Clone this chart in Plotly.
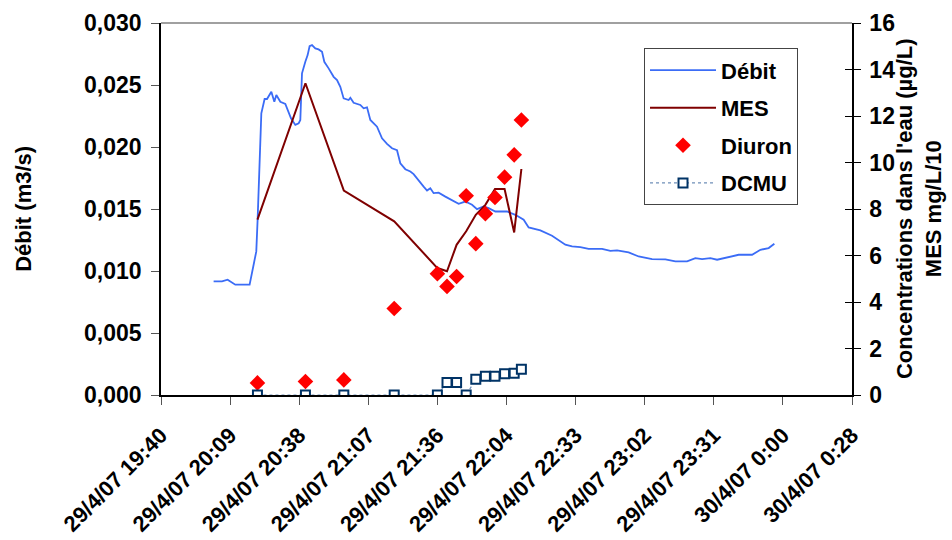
import pandas as pd
import plotly.graph_objects as go

DAY = "2007-04-29 "

# Flow rate (m3/s), continuous record
debit_time = [
    "20:02:44", "20:06:14", "20:08:34", "20:11:46", "20:17:44", "20:20:31", "20:21:04",
    "20:21:54", "20:22:37", "20:23:59", "20:24:59", "20:26:47", "20:28:02", "20:28:52",
    "20:30:32", "20:32:37", "20:33:34", "20:34:59", "20:36:47", "20:38:10", "20:38:52",
    "20:39:34", "20:40:57", "20:41:55", "20:42:44", "20:43:44", "20:45:07", "20:46:29",
    "20:47:55", "20:48:52", "20:50:40", "20:52:45", "20:54:10", "20:55:32", "20:56:55",
    "20:59:00", "20:59:43", "21:01:05", "21:03:53", "21:05:15", "21:06:40", "21:08:03",
    "21:10:50", "21:12:55", "21:15:00", "21:17:05", "21:19:10", "21:20:33", "21:22:38",
    "21:24:43", "21:26:05", "21:28:11", "21:30:16", "21:31:41", "21:33:03", "21:34:26",
    "21:36:31", "21:39:19", "21:42:06", "21:44:51", "21:47:38", "21:50:26", "21:52:31",
    "21:55:16", "21:57:22", "22:00:09", "22:05:02", "22:08:29", "22:11:57", "22:14:02",
    "22:18:55", "22:23:47", "22:29:20", "22:32:07", "22:35:35", "22:39:02", "22:44:38",
    "22:48:05", "22:50:53", "22:55:43", "22:59:53", "23:05:28", "23:11:01", "23:15:11",
    "23:20:04", "23:23:31", "23:26:19", "23:29:46", "23:32:34", "23:36:44", "23:41:34",
    "23:47:09", "23:50:37", "23:54:04", "23:56:27",
]
debit_value = [
    0.00916, 0.00916, 0.00930, 0.00890, 0.00890, 0.01158, 0.01413,
    0.01950, 0.02272, 0.02387, 0.02387, 0.02446, 0.02365, 0.02419,
    0.02365, 0.02347, 0.02298, 0.02231, 0.02178, 0.02191, 0.02218,
    0.02594, 0.02687, 0.02741, 0.02813, 0.02822, 0.02795, 0.02787,
    0.02768, 0.02687, 0.02634, 0.02566, 0.02540, 0.02486, 0.02392,
    0.02379, 0.02397, 0.02357, 0.02339, 0.02312, 0.02320, 0.02218,
    0.02164, 0.02070, 0.02025, 0.01990, 0.01974, 0.01869, 0.01821,
    0.01802, 0.01781, 0.01735, 0.01681, 0.01649, 0.01668, 0.01628,
    0.01632, 0.01600, 0.01574, 0.01542, 0.01560, 0.01534, 0.01499,
    0.01520, 0.01507, 0.01480, 0.01480, 0.01453, 0.01413, 0.01351,
    0.01327, 0.01284, 0.01212, 0.01198, 0.01193, 0.01179, 0.01179,
    0.01163, 0.01166, 0.01150, 0.01117, 0.01096, 0.01093, 0.01077,
    0.01077, 0.01104, 0.01096, 0.01104, 0.01091, 0.01109, 0.01131,
    0.01131, 0.01171, 0.01185, 0.01220,
]

# Sampling times for the water-quality samples
sample_time = [
    "20:21", "20:41", "20:57", "21:18", "21:36", "21:40", "21:44",
    "21:48", "21:52", "21:56", "22:00", "22:04", "22:08", "22:11",
]
mes_value = [7.54, 13.41, 8.79, 7.47, 5.46, 5.32, 6.46, 7.04, 7.75, 8.18, 8.86, 8.86, 6.99, 9.72]
diuron_value = [0.52, 0.58, 0.65, 3.72, 5.22, 4.67, 5.10, 8.57, 6.51, 7.80, 8.50, 9.37, 10.33, 11.83]
dcmu_value = [0, 0, 0, 0, 0, 0.54, 0.54, 0, 0.68, 0.81, 0.81, 0.91, 0.94, 1.11]

# Date axis: 0.02-day steps from 29/4/07 19:40:48
tick_text = [
    "29/4/07 19:40", "29/4/07 20:09", "29/4/07 20:38", "29/4/07 21:07",
    "29/4/07 21:36", "29/4/07 22:04", "29/4/07 22:33", "29/4/07 23:02",
    "29/4/07 23:31", "30/4/07 0:00", "30/4/07 0:28",
]
tick_vals = pd.date_range("2007-04-29 19:40:48", periods=len(tick_text), freq="1728s")

t_debit = pd.to_datetime([DAY + t for t in debit_time])
t_sample = pd.to_datetime([DAY + t for t in sample_time])

FONT = "Liberation Sans, Arial, sans-serif"
tick_font = dict(family=FONT, size=23, color="black", weight=700)
xtick_font = dict(family=FONT, size=22, color="black", weight=700)
title_font = dict(family=FONT, size=22, color="black", weight=700)

fig = go.Figure()
fig.add_trace(go.Scatter(
    x=t_debit, y=debit_value, name="Débit", mode="lines",
    line=dict(color="#3b6cf6", width=1.8), yaxis="y", legendgroup="a",
))
fig.add_trace(go.Scatter(
    x=t_sample, y=mes_value, name="MES", mode="lines",
    line=dict(color="#7f0000", width=2), yaxis="y2", legendgroup="b",
))
fig.add_trace(go.Scatter(
    x=t_sample, y=diuron_value, name="Diuron", mode="markers",
    marker=dict(symbol="diamond", size=12, color="#ff0000"), yaxis="y2", legendgroup="c",
))
fig.add_trace(go.Scatter(
    x=t_sample, y=dcmu_value, name="DCMU", mode="lines+markers",
    line=dict(color="#6f8fb8", width=1.2, dash="dot"),
    marker=dict(symbol="square", size=9, color="white", line=dict(color="#003366", width=2)),
    yaxis="y2", legendgroup="d",
))

fig.update_layout(
    width=952, height=540,
    margin=dict(l=161, r=100, t=23, b=145, autoexpand=False),
    paper_bgcolor="white", plot_bgcolor="white",
    separators=", ",
    font=title_font,
    showlegend=True,
    legend=dict(
        x=0.699, y=0.932, xanchor="left", yanchor="top",
        bgcolor="white", bordercolor="#444444", borderwidth=1,
        font=dict(family=FONT, size=22, color="black", weight=700),
        tracegroupgap=6, traceorder="grouped", itemwidth=66,
    ),
    xaxis=dict(
        type="date", automargin=False,
        range=[tick_vals[0], tick_vals[-1]],
        tickmode="array", tickvals=tick_vals, ticktext=tick_text,
        tickangle=-45, tickfont=xtick_font, ticklabelstandoff=9,
        showline=True, linecolor="black", linewidth=1.5,
        ticks="outside", ticklen=8, tickcolor="#555555",
        showgrid=False, zeroline=False,
    ),
    yaxis=dict(
        automargin=False,
        range=[0, 0.03], dtick=0.005, tickformat=".3f", tickfont=tick_font,
        ticklabelstandoff=5,
        showline=True, linecolor="black", linewidth=1.5,
        ticks="outside", ticklen=8, tickcolor="#555555",
        showgrid=False, zeroline=False,
    ),
    yaxis2=dict(
        automargin=False,
        range=[0, 16], dtick=2, overlaying="y", side="right", tickfont=tick_font,
        ticklabelstandoff=4,
        showline=True, linecolor="black", linewidth=1.5,
        ticks="outside", ticklen=7, tickcolor="black",
        showgrid=False, zeroline=False,
    ),
    yaxis3=dict(
        automargin=False,
        range=[0, 16], dtick=2, overlaying="y", side="right",
        showticklabels=False, ticks="inside", ticklen=7, tickcolor="black",
        showline=False, showgrid=False, zeroline=False,
    ),
    shapes=[dict(
        type="line", xref="paper", yref="paper", x0=0, x1=1, y0=1, y1=1,
        line=dict(color="#808080", width=1.5),
    )],
    annotations=[
        dict(text="Débit (m3/s)", xref="paper", yref="paper",
             x=-0.2, y=0.5, xanchor="center", yanchor="middle",
             textangle=-90, showarrow=False, font=title_font),
        dict(text="Concentrations dans l'eau (µg/L)<br>MES mg/L/10",
             xref="paper", yref="paper", x=1.097, y=0.5,
             xanchor="center", yanchor="middle",
             textangle=-90, showarrow=False, font=title_font),
    ],
)

# invisible trace so the inside tick marks of the right axis are drawn
fig.add_trace(go.Scatter(x=[tick_vals[0]], y=[0], yaxis="y3", mode="markers",
                         marker=dict(opacity=0), showlegend=False, hoverinfo="skip"))

fig.write_html("out.html")
